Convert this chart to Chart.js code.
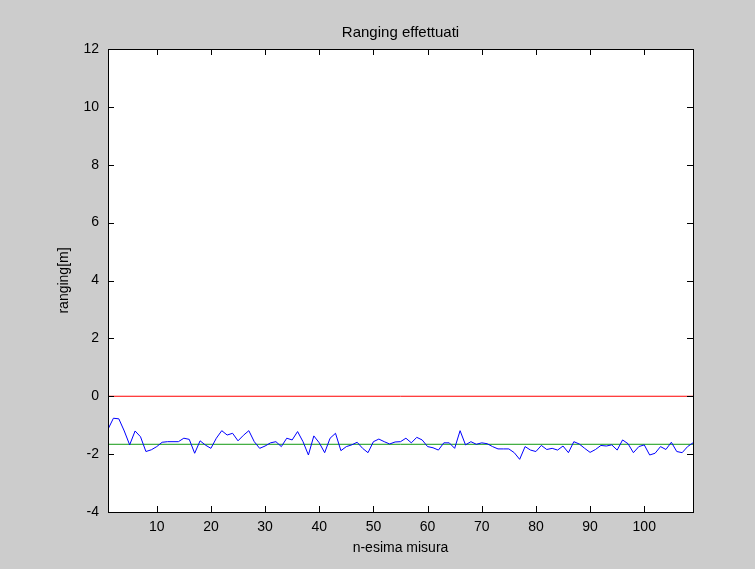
<!DOCTYPE html>
<html lang="it">
<head>
<meta charset="UTF-8">
<title>Ranging effettuati</title>
<script src="https://cdn.jsdelivr.net/npm/chart.js@4.4.0/dist/chart.umd.min.js"></script>
<style>
  html, body { margin: 0; padding: 0; background: #cccccc; }
  #wrap { width: 755px; height: 569px; }
</style>
</head>
<body>
<div id="wrap"><canvas id="rangingChart" width="755" height="569"></canvas></div>
<script>
// valori (ranging in metri per ogni misura)
const rangingValues = [
  -1.14, -0.76, -0.78, -1.20, -1.68, -1.20, -1.40, -1.91, -1.85, -1.74,
  -1.59, -1.57, -1.57, -1.57, -1.45, -1.49, -1.97, -1.54, -1.69, -1.80,
  -1.45, -1.19, -1.34, -1.28, -1.54, -1.35, -1.19, -1.57, -1.80, -1.72,
  -1.61, -1.57, -1.74, -1.45, -1.51, -1.22, -1.57, -2.03, -1.37, -1.61,
  -1.95, -1.45, -1.28, -1.88, -1.74, -1.68, -1.59, -1.80, -1.95, -1.57,
  -1.48, -1.57, -1.65, -1.58, -1.57, -1.45, -1.61, -1.42, -1.51, -1.74,
  -1.78, -1.86, -1.61, -1.61, -1.80, -1.19, -1.68, -1.57, -1.66, -1.61,
  -1.64, -1.74, -1.82, -1.82, -1.82, -1.95, -2.18, -1.74, -1.86, -1.91,
  -1.70, -1.84, -1.80, -1.86, -1.72, -1.95, -1.57, -1.65, -1.80, -1.94,
  -1.84, -1.70, -1.72, -1.68, -1.86, -1.51, -1.64, -1.95, -1.74, -1.68,
  -2.03, -1.97, -1.74, -1.84, -1.59, -1.91, -1.95, -1.74, -1.61
];
const referenceLevel = 0;      // linea rossa
const meanLevel = -1.66;       // linea verde (media)
const xRange = [1, 109];
const yRange = [-4, 12];
const xTickValues = [10, 20, 30, 40, 50, 60, 70, 80, 90, 100];
const yTickValues = [-4, -2, 0, 2, 4, 6, 8, 10, 12];

const FONT = 'Liberation Sans, Arial, Helvetica, sans-serif';

// punti della serie (n-esima misura, valore)
const rangingPoints = rangingValues.map((v, i) => ({ x: i + 1, y: v }));

// tick verso l'interno e cornice nera, come in MATLAB
const boxPlugin = {
  id: 'matlabBox',
  beforeDraw(chart) {
    const { ctx, chartArea: a } = chart;
    ctx.save();
    ctx.fillStyle = '#cccccc';
    ctx.fillRect(0, 0, chart.width, chart.height);
    ctx.fillStyle = '#ffffff';
    ctx.fillRect(a.left, a.top, a.right - a.left, a.bottom - a.top);
    ctx.restore();
  },
  afterDraw(chart) {
    const { ctx, chartArea: a, scales } = chart;
    const len = 6;
    ctx.save();
    ctx.strokeStyle = '#000';
    ctx.lineWidth = 1;
    ctx.beginPath();
    xTickValues.forEach(v => {
      const px = Math.round(scales.x.getPixelForValue(v)) + 0.5;
      ctx.moveTo(px, a.bottom); ctx.lineTo(px, a.bottom - len);
      ctx.moveTo(px, a.top); ctx.lineTo(px, a.top + len);
    });
    yTickValues.forEach(v => {
      const py = Math.round(scales.y.getPixelForValue(v)) + 0.5;
      ctx.moveTo(a.left, py); ctx.lineTo(a.left + len, py);
      ctx.moveTo(a.right, py); ctx.lineTo(a.right - len, py);
    });
    ctx.stroke();
    ctx.strokeRect(Math.round(a.left) + 0.5, Math.round(a.top) + 0.5,
      Math.round(a.right - a.left), Math.round(a.bottom - a.top));
    ctx.restore();
  }
};

new Chart(document.getElementById('rangingChart'), {
  type: 'line',
  data: {
    datasets: [
      {
        label: 'ranging',
        data: rangingPoints,
        borderColor: '#0000ff',
        borderWidth: 1,
        pointRadius: 0,
        tension: 0
      },
      {
        label: 'zero',
        data: [{ x: xRange[0], y: referenceLevel }, { x: xRange[1], y: referenceLevel }],
        borderColor: '#ff0000',
        borderWidth: 1,
        pointRadius: 0
      },
      {
        label: 'media',
        data: [{ x: xRange[0], y: meanLevel }, { x: xRange[1], y: meanLevel }],
        borderColor: '#129a12',
        borderWidth: 1,
        pointRadius: 0
      }
    ]
  },
  options: {
    responsive: false,
    animation: false,
    layout: { padding: { left: 0, right: 62, top: 0, bottom: 0 } },
    plugins: {
      legend: { display: false },
      tooltip: { enabled: false },
      title: { display: false }
    },
    scales: {
      x: {
        type: 'linear',
        min: xRange[0],
        max: xRange[1],
        grid: { display: false, drawTicks: false },
        border: { display: false },
        afterBuildTicks: s => { s.ticks = xTickValues.map(v => ({ value: v })); },
        afterFit: s => { s.height = 57; },
        ticks: {
          color: '#000',
          padding: 7,
          maxRotation: 0,
          font: { family: FONT, size: 14 }
        },
        title: {
          display: true,
          text: 'n-esima misura',
          color: '#000',
          font: { family: FONT, size: 14, lineHeight: 1.2 },
          padding: { top: 0, bottom: 12 }
        }
      },
      // asse superiore usato solo per il titolo, centrato sull'area del grafico
      xTop: {
        type: 'linear',
        position: 'top',
        min: xRange[0],
        max: xRange[1],
        grid: { display: false, drawTicks: false },
        border: { display: false },
        ticks: { display: false },
        afterFit: s => { s.height = 49; },
        title: {
          display: true,
          text: 'Ranging effettuati',
          color: '#000',
          font: { family: FONT, size: 15, lineHeight: 1.2 },
          padding: { top: 24, bottom: 0 }
        }
      },
      y: {
        type: 'linear',
        min: yRange[0],
        max: yRange[1],
        grid: { display: false, drawTicks: false },
        border: { display: false },
        afterBuildTicks: s => { s.ticks = yTickValues.map(v => ({ value: v })); },
        afterFit: s => { s.width = 108; },
        ticks: {
          color: '#000',
          padding: 9,
          font: { family: FONT, size: 14 }
        },
        title: {
          display: true,
          text: 'ranging[m]',
          color: '#000',
          font: { family: FONT, size: 14, lineHeight: 1.2 },
          padding: { top: 56, bottom: 0 }
        }
      }
    }
  },
  plugins: [boxPlugin]
});
</script>
</body>
</html>
